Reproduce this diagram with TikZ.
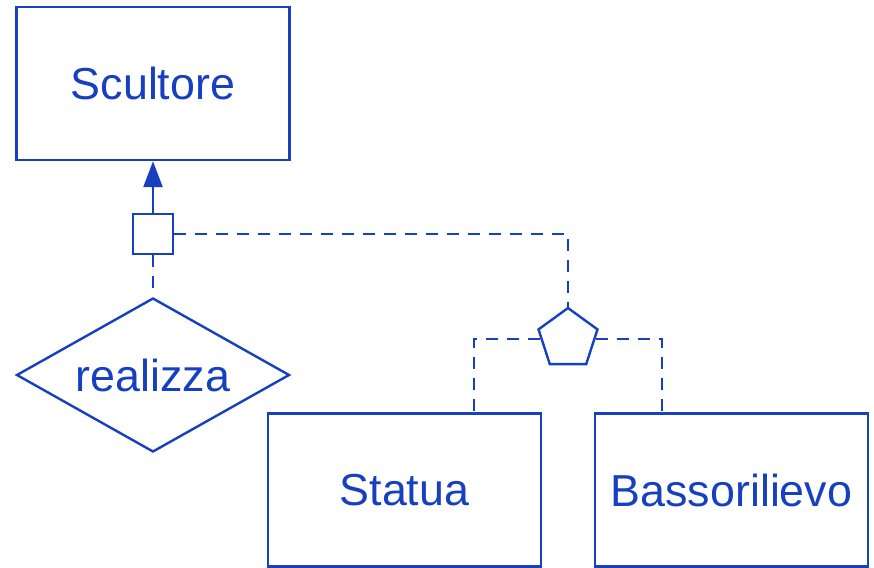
\documentclass[tikz,border=0pt]{standalone}
\usepackage{fontspec}
\setmainfont{Liberation Sans}
\usepackage{xcolor}
\usepackage{tikz}
\usetikzlibrary{arrows.meta,positioning,calc}
\usetikzlibrary{shapes.geometric}
\definecolor{erblue}{RGB}{22,64,192}

\begin{document}
\begin{tikzpicture}[x=0.5pt,y=-0.5pt,
		every node/.style={draw=erblue,line width=1.2pt,text=erblue,font=\fontsize{22.4}{26}\selectfont,inner sep=0pt},
		entity/.style={rectangle,minimum width=136.5pt,minimum height=76.5pt},
		relation/.style={diamond,aspect=1.77,minimum width=136.5pt,minimum height=77pt},
		link/.style={draw=erblue,line width=1.2pt},
		dashlink/.style={link,dash pattern=on 6pt off 4.5pt}]
		\useasboundingbox (0,0) rectangle (874,568);
		\node[entity] (scultore) at (153,83.5) {Scultore};
		\node[rectangle,minimum size=20pt] (card) at (153,234) {};
		\node[relation] (realizza) at (153,375) {realizza};
		\node[regular polygon,regular polygon sides=5,minimum size=31pt] (gen) at (568,339) {};
		\node[entity] (statua) at (404.5,490) {Statua};
		\node[entity] (basso) at (731.5,490) {Bassorilievo};
		\draw[link,-{Triangle[length=13pt,width=9.5pt]}] (card) -- (scultore);
		\draw[dashlink] (card) -- (realizza);
		\draw[dashlink] (card.east) -| (gen.north);
		\draw[dashlink] (gen.west) -| ([xshift=34.75pt]statua.north);
		\draw[dashlink] (gen.east) -| ([xshift=-34.75pt]basso.north);
	\end{tikzpicture}
\end{document}
